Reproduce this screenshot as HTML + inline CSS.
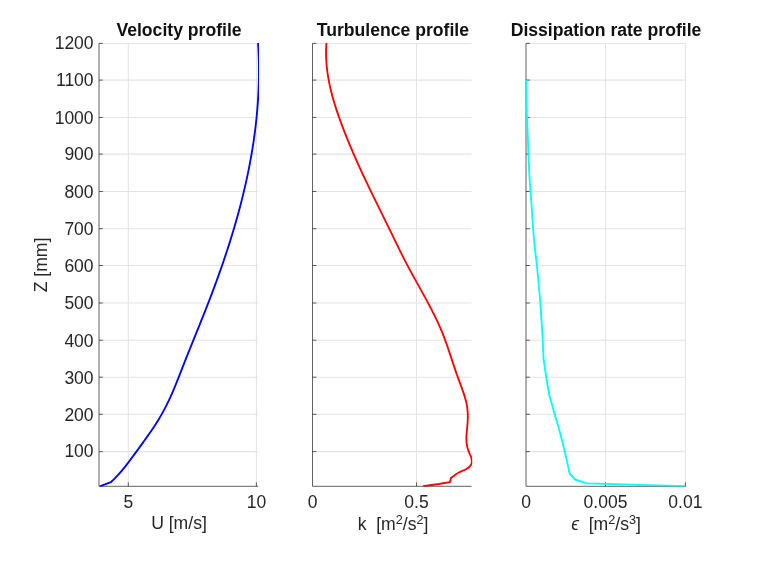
<!DOCTYPE html>
<html><head><meta charset="utf-8"><title>Profiles</title>
<style>
html,body{margin:0;padding:0;background:#fff;}
body{width:760px;height:570px;overflow:hidden;font-family:"Liberation Sans",sans-serif;}
svg text{font-family:"Liberation Sans",sans-serif;}
</style></head><body>
<svg width="760" height="570" viewBox="0 0 760 570" style="display:block;will-change:transform">
<path d="M99.0 451.60H258.1M99.0 414.30H258.1M99.0 377.20H258.1M99.0 340.20H258.1M99.0 303.00H258.1M99.0 265.50H258.1M99.0 228.70H258.1M99.0 191.50H258.1M99.0 154.10H258.1M99.0 117.40H258.1M99.0 80.10H258.1M99.0 43.40H258.1M128.3 43.4V486.3M256.4 43.4V486.3" stroke="#e4e4e4" stroke-width="1.05" fill="none"/>
<path d="M99.0 43.4V486.3H258.1M99.0 451.60h3.9M99.0 414.30h3.9M99.0 377.20h3.9M99.0 340.20h3.9M99.0 303.00h3.9M99.0 265.50h3.9M99.0 228.70h3.9M99.0 191.50h3.9M99.0 154.10h3.9M99.0 117.40h3.9M99.0 80.10h3.9M99.0 43.40h3.9M128.3 486.3v-3.9M256.4 486.3v-3.9" stroke="#262626" stroke-width="1" fill="none" stroke-opacity="0.72"/>
<text x="128.3" y="508.2" font-size="17.5" text-anchor="middle" letter-spacing="0" fill="#262626">5</text>
<text x="256.4" y="508.2" font-size="17.5" text-anchor="middle" letter-spacing="0" fill="#262626">10</text>
<path d="M312.5 451.60H471.5M312.5 414.30H471.5M312.5 377.20H471.5M312.5 340.20H471.5M312.5 303.00H471.5M312.5 265.50H471.5M312.5 228.70H471.5M312.5 191.50H471.5M312.5 154.10H471.5M312.5 117.40H471.5M312.5 80.10H471.5M312.5 43.40H471.5M416.5 43.4V486.3" stroke="#e4e4e4" stroke-width="1.05" fill="none"/>
<path d="M312.5 43.4V486.3H471.5M312.5 451.60h3.9M312.5 414.30h3.9M312.5 377.20h3.9M312.5 340.20h3.9M312.5 303.00h3.9M312.5 265.50h3.9M312.5 228.70h3.9M312.5 191.50h3.9M312.5 154.10h3.9M312.5 117.40h3.9M312.5 80.10h3.9M312.5 43.40h3.9M416.5 486.3v-3.9" stroke="#262626" stroke-width="1" fill="none" stroke-opacity="0.72"/>
<text x="312.5" y="508.2" font-size="17.5" text-anchor="middle" letter-spacing="0" fill="#262626">0</text>
<text x="416.5" y="508.2" font-size="17.5" text-anchor="middle" letter-spacing="0" fill="#262626">0.5</text>
<path d="M526.0 451.60H685.5M526.0 414.30H685.5M526.0 377.20H685.5M526.0 340.20H685.5M526.0 303.00H685.5M526.0 265.50H685.5M526.0 228.70H685.5M526.0 191.50H685.5M526.0 154.10H685.5M526.0 117.40H685.5M526.0 80.10H685.5M526.0 43.40H685.5M605.5 43.4V486.3M685.4 43.4V486.3" stroke="#e4e4e4" stroke-width="1.05" fill="none"/>
<path d="M526.0 43.4V486.3H685.5M526.0 451.60h3.9M526.0 414.30h3.9M526.0 377.20h3.9M526.0 340.20h3.9M526.0 303.00h3.9M526.0 265.50h3.9M526.0 228.70h3.9M526.0 191.50h3.9M526.0 154.10h3.9M526.0 117.40h3.9M526.0 80.10h3.9M526.0 43.40h3.9M605.5 486.3v-3.9M685.4 486.3v-3.9" stroke="#262626" stroke-width="1" fill="none" stroke-opacity="0.72"/>
<text x="526.0" y="508.2" font-size="17.5" text-anchor="middle" letter-spacing="0" fill="#262626">0</text>
<text x="605.5" y="508.2" font-size="17.5" text-anchor="middle" letter-spacing="0" fill="#262626">0.005</text>
<text x="685.4" y="508.2" font-size="17.5" text-anchor="middle" letter-spacing="0" fill="#262626">0.01</text>
<text x="93.6" y="457.10" font-size="17.5" text-anchor="end" letter-spacing="0" fill="#262626">100</text>
<text x="93.6" y="420.60" font-size="17.5" text-anchor="end" letter-spacing="0" fill="#262626">200</text>
<text x="93.6" y="383.50" font-size="17.5" text-anchor="end" letter-spacing="0" fill="#262626">300</text>
<text x="93.6" y="346.50" font-size="17.5" text-anchor="end" letter-spacing="0" fill="#262626">400</text>
<text x="93.6" y="309.30" font-size="17.5" text-anchor="end" letter-spacing="0" fill="#262626">500</text>
<text x="93.6" y="271.80" font-size="17.5" text-anchor="end" letter-spacing="0" fill="#262626">600</text>
<text x="93.6" y="235.00" font-size="17.5" text-anchor="end" letter-spacing="0" fill="#262626">700</text>
<text x="93.6" y="197.80" font-size="17.5" text-anchor="end" letter-spacing="0" fill="#262626">800</text>
<text x="93.6" y="160.40" font-size="17.5" text-anchor="end" letter-spacing="0" fill="#262626">900</text>
<text x="93.6" y="123.70" font-size="17.5" text-anchor="end" letter-spacing="0" fill="#262626">1000</text>
<text x="93.6" y="86.40" font-size="17.5" text-anchor="end" letter-spacing="0" fill="#262626">1100</text>
<text x="93.6" y="48.80" font-size="17.5" text-anchor="end" letter-spacing="0" fill="#262626">1200</text>
<defs><clipPath id="c0"><rect x="98.4" y="42.8" width="160.60000000000002" height="444.00000000000006"/></clipPath><clipPath id="c1"><rect x="311.9" y="42.8" width="160.5" height="444.00000000000006"/></clipPath><clipPath id="c2"><rect x="525.4" y="42.8" width="161.0" height="444.00000000000006"/></clipPath></defs>
<path d="M258.07 42.90C258.11 43.57 258.23 45.57 258.31 46.90C258.38 48.23 258.45 49.57 258.51 50.90C258.57 52.23 258.62 53.57 258.67 54.90C258.72 56.23 258.76 57.57 258.80 58.90C258.83 60.23 258.86 61.57 258.89 62.90C258.91 64.23 258.93 65.57 258.94 66.90C258.95 68.23 258.96 69.57 258.96 70.90C258.96 72.23 258.95 73.57 258.94 74.90C258.92 76.23 258.90 77.57 258.88 78.90C258.86 80.23 258.82 81.57 258.79 82.90C258.75 84.23 258.71 85.57 258.66 86.90C258.61 88.23 258.56 89.57 258.50 90.90C258.44 92.23 258.37 93.57 258.30 94.90C258.23 96.23 258.16 97.57 258.07 98.90C257.99 100.23 257.90 101.57 257.81 102.90C257.71 104.23 257.62 105.57 257.51 106.90C257.41 108.23 257.29 109.57 257.18 110.90C257.06 112.23 256.94 113.57 256.81 114.90C256.69 116.23 256.55 117.57 256.42 118.90C256.28 120.23 256.13 121.57 255.99 122.90C255.84 124.23 255.68 125.57 255.52 126.90C255.36 128.23 255.20 129.57 255.03 130.90C254.86 132.23 254.68 133.57 254.50 134.90C254.32 136.23 254.14 137.57 253.95 138.90C253.76 140.23 253.56 141.57 253.36 142.90C253.16 144.23 252.95 145.57 252.74 146.90C252.53 148.23 252.31 149.57 252.09 150.90C251.87 152.23 251.64 153.57 251.41 154.90C251.18 156.23 250.95 157.57 250.70 158.90C250.46 160.23 250.22 161.57 249.97 162.90C249.72 164.23 249.46 165.57 249.20 166.90C248.94 168.23 248.67 169.57 248.40 170.90C248.13 172.23 247.86 173.57 247.58 174.90C247.30 176.23 247.01 177.57 246.73 178.90C246.44 180.23 246.14 181.57 245.85 182.90C245.55 184.23 245.24 185.57 244.94 186.90C244.63 188.23 244.32 189.57 244.00 190.90C243.69 192.23 243.36 193.57 243.04 194.90C242.71 196.23 242.38 197.57 242.05 198.90C241.72 200.23 241.38 201.57 241.04 202.90C240.69 204.23 240.35 205.57 240.00 206.90C239.64 208.23 239.29 209.57 238.93 210.90C238.57 212.23 238.21 213.57 237.84 214.90C237.47 216.23 237.10 217.57 236.72 218.90C236.35 220.23 235.97 221.57 235.58 222.90C235.20 224.23 234.81 225.57 234.42 226.90C234.03 228.23 233.63 229.57 233.23 230.90C232.84 232.23 232.43 233.57 232.03 234.90C231.62 236.23 231.21 237.57 230.79 238.90C230.38 240.23 229.96 241.57 229.54 242.90C229.12 244.23 228.69 245.57 228.26 246.90C227.83 248.23 227.40 249.57 226.96 250.90C226.53 252.23 226.09 253.57 225.64 254.90C225.20 256.23 224.76 257.57 224.31 258.90C223.86 260.23 223.40 261.57 222.94 262.90C222.49 264.23 222.03 265.57 221.56 266.90C221.10 268.23 220.63 269.57 220.16 270.90C219.69 272.23 219.22 273.57 218.75 274.90C218.27 276.23 217.79 277.57 217.31 278.90C216.83 280.23 216.34 281.57 215.85 282.90C215.36 284.23 214.87 285.57 214.38 286.90C213.88 288.23 213.38 289.57 212.88 290.90C212.38 292.23 211.88 293.57 211.37 294.90C210.87 296.23 210.36 297.57 209.85 298.90C209.34 300.23 208.82 301.57 208.30 302.90C207.79 304.23 207.27 305.57 206.74 306.90C206.22 308.23 205.70 309.57 205.17 310.90C204.64 312.23 204.12 313.57 203.58 314.90C203.05 316.23 202.52 317.57 201.99 318.90C201.45 320.23 200.92 321.57 200.38 322.90C199.85 324.23 199.31 325.57 198.77 326.90C198.23 328.23 197.69 329.57 197.16 330.90C196.62 332.23 196.08 333.57 195.54 334.90C195.00 336.23 194.46 337.57 193.92 338.90C193.38 340.23 192.84 341.57 192.30 342.90C191.76 344.23 191.22 345.57 190.68 346.90C190.15 348.23 189.61 349.57 189.07 350.90C188.54 352.23 188.00 353.57 187.47 354.90C186.94 356.23 186.41 357.57 185.88 358.90C185.35 360.23 184.82 361.57 184.29 362.90C183.77 364.23 183.24 365.57 182.72 366.90C182.20 368.23 181.68 369.57 181.16 370.90C180.64 372.23 180.13 373.57 179.60 374.90C179.08 376.23 178.56 377.57 178.03 378.90C177.51 380.23 176.98 381.57 176.44 382.90C175.90 384.23 175.36 385.57 174.81 386.90C174.25 388.23 173.69 389.57 173.12 390.90C172.55 392.23 171.97 393.57 171.38 394.90C170.79 396.23 170.18 397.57 169.57 398.90C168.95 400.23 168.31 401.57 167.66 402.90C167.01 404.23 166.35 405.57 165.66 406.90C164.98 408.23 164.28 409.57 163.55 410.90C162.83 412.23 162.08 413.57 161.32 414.90C160.55 416.23 159.76 417.57 158.95 418.90C158.15 420.23 157.32 421.57 156.47 422.90C155.63 424.23 154.76 425.57 153.89 426.90C153.01 428.23 152.11 429.57 151.21 430.90C150.30 432.23 149.38 433.57 148.45 434.90C147.52 436.23 146.58 437.57 145.63 438.90C144.68 440.23 143.73 441.57 142.76 442.90C141.80 444.23 140.83 445.57 139.85 446.90C138.88 448.23 137.90 449.57 136.92 450.90C135.94 452.23 134.96 453.57 133.98 454.90C133.00 456.23 132.02 457.57 131.03 458.90C130.04 460.23 129.06 461.57 128.04 462.90C127.03 464.23 126.00 465.57 124.94 466.90C123.87 468.23 122.79 469.57 121.66 470.90C120.53 472.23 119.36 473.57 118.14 474.90C116.91 476.23 115.50 477.70 114.31 478.90C113.12 480.10 111.54 481.57 110.98 482.10L105.00 484.40L99.75 486.25" clip-path="url(#c0)" stroke="#0000ff" stroke-width="1.85" fill="none" stroke-linejoin="round"/>
<path d="M326.45 42.90C326.40 43.73 326.21 46.23 326.15 47.90C326.08 49.57 326.05 51.23 326.05 52.90C326.05 54.57 326.08 56.23 326.15 57.90C326.21 59.57 326.31 61.23 326.43 62.90C326.56 64.57 326.71 66.23 326.89 67.90C327.08 69.57 327.29 71.23 327.52 72.90C327.76 74.57 328.02 76.23 328.31 77.90C328.60 79.57 328.92 81.23 329.25 82.90C329.59 84.57 329.95 86.23 330.33 87.90C330.71 89.57 331.12 91.23 331.54 92.90C331.97 94.57 332.42 96.23 332.88 97.90C333.34 99.57 333.83 101.23 334.33 102.90C334.83 104.57 335.35 106.23 335.88 107.90C336.41 109.57 336.96 111.23 337.53 112.90C338.09 114.57 338.67 116.23 339.26 117.90C339.85 119.57 340.46 121.23 341.07 122.90C341.69 124.57 342.32 126.23 342.95 127.90C343.59 129.57 344.24 131.23 344.89 132.90C345.55 134.57 346.21 136.23 346.89 137.90C347.56 139.57 348.24 141.23 348.93 142.90C349.62 144.57 350.32 146.23 351.03 147.90C351.74 149.57 352.45 151.23 353.17 152.90C353.89 154.57 354.62 156.23 355.36 157.90C356.09 159.57 356.84 161.23 357.58 162.90C358.33 164.57 359.09 166.23 359.85 167.90C360.61 169.57 361.38 171.23 362.15 172.90C362.92 174.57 363.70 176.23 364.49 177.90C365.27 179.57 366.06 181.23 366.85 182.90C367.64 184.57 368.44 186.23 369.24 187.90C370.04 189.57 370.85 191.23 371.66 192.90C372.47 194.57 373.28 196.23 374.09 197.90C374.91 199.57 375.73 201.23 376.54 202.90C377.36 204.57 378.19 206.23 379.01 207.90C379.83 209.57 380.65 211.23 381.47 212.90C382.30 214.57 383.12 216.23 383.94 217.90C384.76 219.57 385.58 221.23 386.40 222.90C387.22 224.57 388.03 226.23 388.85 227.90C389.66 229.57 390.47 231.23 391.28 232.90C392.09 234.57 392.89 236.23 393.70 237.90C394.51 239.57 395.32 241.23 396.13 242.90C396.95 244.57 397.76 246.23 398.58 247.90C399.40 249.57 400.23 251.23 401.06 252.90C401.89 254.57 402.73 256.23 403.58 257.90C404.43 259.57 405.28 261.23 406.15 262.90C407.02 264.57 407.90 266.23 408.79 267.90C409.68 269.57 410.58 271.23 411.49 272.90C412.40 274.57 413.32 276.23 414.24 277.90C415.16 279.57 416.09 281.23 417.01 282.90C417.94 284.57 418.87 286.23 419.80 287.90C420.72 289.57 421.65 291.23 422.57 292.90C423.49 294.57 424.41 296.23 425.32 297.90C426.23 299.57 427.14 301.23 428.03 302.90C428.92 304.57 429.80 306.23 430.67 307.90C431.54 309.57 432.39 311.23 433.23 312.90C434.07 314.57 434.90 316.23 435.70 317.90C436.51 319.57 437.30 321.23 438.06 322.90C438.83 324.57 439.58 326.23 440.30 327.90C441.02 329.57 441.72 331.23 442.39 332.90C443.06 334.57 443.71 336.23 444.34 337.90C444.97 339.57 445.58 341.23 446.18 342.90C446.77 344.57 447.35 346.23 447.92 347.90C448.49 349.57 449.05 351.23 449.61 352.90C450.16 354.57 450.71 356.23 451.26 357.90C451.81 359.57 452.35 361.23 452.90 362.90C453.45 364.57 454.00 366.23 454.56 367.90C455.13 369.57 455.69 371.23 456.27 372.90C456.86 374.57 457.45 376.23 458.06 377.90C458.67 379.57 459.30 381.23 459.92 382.90C460.54 384.57 461.18 386.23 461.78 387.90C462.38 389.57 462.98 391.23 463.53 392.90C464.09 394.57 464.62 396.23 465.10 397.90C465.57 399.57 466.02 401.23 466.38 402.90C466.75 404.57 467.06 406.23 467.29 407.90C467.52 409.57 467.66 411.23 467.74 412.90C467.83 414.57 467.83 416.23 467.80 417.90C467.77 419.57 467.68 421.23 467.56 422.90C467.45 424.57 467.28 426.23 467.13 427.90C466.98 429.57 466.79 431.23 466.67 432.90C466.55 434.57 466.42 436.23 466.41 437.90C466.40 439.57 466.43 441.23 466.61 442.90C466.79 444.57 467.15 446.45 467.51 447.90C467.87 449.35 468.15 450.00 468.78 451.60C469.40 453.20 470.75 455.89 471.25 457.50C471.75 459.11 471.75 460.10 471.75 461.25C471.75 462.40 472.06 463.15 471.25 464.40C470.44 465.65 468.98 467.40 466.90 468.75C464.82 470.10 460.94 471.31 458.75 472.50C456.56 473.69 454.58 475.33 453.75 475.90L450.90 478.10L450.00 482.10L438.75 484.00L423.10 486.25" clip-path="url(#c1)" stroke="#ff0000" stroke-width="1.85" fill="none" stroke-linejoin="round"/>
<polyline points="526.25,80.00 526.60,110.00 527.00,117.50 527.75,135.00 528.40,154.10 529.70,180.40 530.60,191.50 531.90,210.00 533.10,228.75 535.10,250.40 536.90,265.50 538.75,285.00 540.40,303.00 541.50,320.40 542.75,340.25 543.50,358.75 546.25,377.25 549.30,395.00 554.75,414.40 560.00,432.50 564.80,451.40 569.75,473.75 575.60,479.75 586.90,483.40 683.50,486.10" clip-path="url(#c2)" stroke="#00ffff" stroke-width="1.85" fill="none" stroke-linejoin="round"/>
<text x="179" y="36" font-size="17.6" font-weight="bold" text-anchor="middle" fill="#111">Velocity profile</text>
<text x="392.9" y="36" font-size="17.6" font-weight="bold" text-anchor="middle" fill="#111">Turbulence profile</text>
<text x="606" y="36" font-size="17.6" font-weight="bold" text-anchor="middle" fill="#111">Dissipation rate profile</text>
<text x="179" y="528.5" font-size="17.6" text-anchor="middle" fill="#262626">U [m/s]</text>
<text x="393" y="530.4" font-size="17.6" text-anchor="middle" fill="#262626" xml:space="preserve">k  [m<tspan dy="-6.7" font-size="12.6">2</tspan><tspan dy="6.7">/s</tspan><tspan dy="-6.7" font-size="12.6">2</tspan><tspan dy="6.7">]</tspan></text>
<text x="606" y="530.4" font-size="17.6" text-anchor="middle" fill="#262626" xml:space="preserve"><tspan font-style="italic">ϵ</tspan>  [m<tspan dy="-6.7" font-size="12.6">2</tspan><tspan dy="6.7">/s</tspan><tspan dy="-6.7" font-size="12.6">3</tspan><tspan dy="6.7">]</tspan></text>
<text transform="translate(47.4,265) rotate(-90)" font-size="17.6" text-anchor="middle" fill="#262626">Z [mm]</text>
</svg>
</body></html>
